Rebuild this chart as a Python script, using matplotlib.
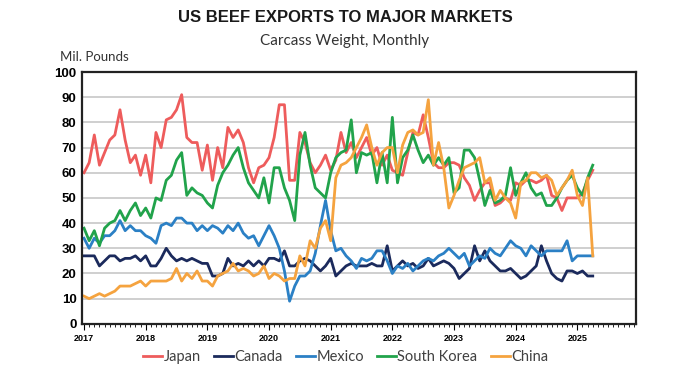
import matplotlib
matplotlib.use("Agg")
import matplotlib.pyplot as plt
from matplotlib.ticker import MultipleLocator
import numpy as np

# monthly values, Jan 2017 - Apr 2025 (Mil. Pounds)
years = ['2017', '2018', '2019', '2020', '2021', '2022', '2023', '2024', '2025']
japan = [60, 64, 75, 63, 68, 73, 75, 85, 73, 64, 67, 59,
         67, 56, 76, 70, 81, 82, 85, 91, 74, 72, 72, 61,
         71, 57, 70, 62, 78, 74, 77, 72, 62, 56, 62, 63,
         66, 74, 87, 87, 57, 57, 76, 72, 64, 60, 63, 67,
         61, 65, 76, 68, 72, 66, 70, 74, 67, 70, 63, 67,
         61, 60, 59, 68, 76, 75, 83, 74, 64, 62, 62, 64,
         64, 63, 58, 55, 49, 53, 56, 56, 47, 48, 50, 49,
         56, 55, 57, 57, 56, 57, 59, 51, 50, 45, 50, 50,
         50, 52, 57, 61]
canada = [27, 27, 27, 23, 25, 27, 27, 25, 26, 26, 27, 25,
          27, 23, 23, 26, 30, 27, 25, 26, 25, 26, 25, 24,
          24, 19, 19, 20, 26, 23, 24, 23, 25, 23, 25, 23,
          26, 26, 25, 29, 23, 23, 25, 26, 25, 23, 21, 23,
          26, 19, 21, 23, 24, 23, 23, 23, 24, 23, 23, 31,
          21, 23, 25, 23, 24, 22, 23, 26, 23, 24, 25, 24,
          22, 18, 20, 22, 31, 25, 29, 25, 23, 21, 21, 22,
          20, 18, 19, 21, 23, 31, 25, 20, 18, 17, 21, 21,
          20, 21, 19, 19]
mexico = [34, 30, 34, 32, 35, 35, 37, 41, 37, 39, 37, 37,
          35, 34, 32, 39, 40, 39, 42, 42, 40, 40, 37, 39,
          37, 39, 38, 36, 39, 37, 40, 36, 34, 35, 31, 35,
          39, 35, 30, 21, 9, 15, 19, 19, 21, 28, 39, 49,
          37, 29, 30, 27, 25, 22, 26, 25, 26, 29, 29, 25,
          20, 23, 22, 24, 21, 23, 25, 26, 25, 27, 28, 30,
          28, 26, 28, 23, 25, 27, 26, 30, 28, 27, 30, 33,
          31, 30, 27, 31, 29, 27, 29, 29, 29, 29, 33, 25,
          27, 27, 27, 27]
korea = [38, 33, 37, 31, 38, 40, 41, 45, 41, 45, 48, 43,
         46, 42, 50, 49, 57, 59, 65, 68, 51, 54, 52, 51,
         48, 46, 55, 60, 63, 67, 70, 62, 56, 53, 50, 58,
         48, 62, 62, 54, 49, 41, 67, 76, 63, 54, 52, 50,
         60, 66, 68, 69, 81, 60, 68, 67, 68, 56, 68, 56,
         82, 56, 66, 69, 75, 69, 64, 67, 63, 66, 63, 66,
         52, 54, 69, 69, 66, 57, 47, 53, 48, 49, 51, 62,
         51, 56, 60, 54, 51, 52, 47, 47, 50, 54, 57, 59,
         54, 51, 58, 63]
china = [11, 10, 11, 12, 11, 12, 13, 15, 15, 15, 16, 17,
         15, 17, 17, 17, 17, 18, 22, 17, 20, 18, 21, 17,
         17, 15, 19, 20, 21, 24, 21, 22, 21, 19, 20, 23,
         18, 20, 19, 17, 18, 18, 27, 23, 33, 30, 38, 41,
         33, 58, 63, 64, 66, 70, 74, 79, 70, 63, 68, 70,
         70, 60, 71, 76, 77, 75, 76, 89, 63, 72, 62, 46,
         51, 57, 62, 63, 64, 66, 56, 58, 49, 53, 50, 48,
         42, 56, 57, 60, 60, 58, 59, 57, 51, 54, 57, 61,
         51, 47, 58, 27]

series = [('Japan', japan, '#ee5c5c'),
          ('Canada', canada, '#1b2a5c'),
          ('Mexico', mexico, '#2b80c5'),
          ('South Korea', korea, '#21a34b'),
          ('China', china, '#f5a33f')]

fig = plt.figure(figsize=(6.86, 3.81), dpi=100)
ax = fig.add_axes([0.1195, 0.150, 0.8075, 0.661])

months = np.arange(len(japan))
for name, vals, color in series:
    ax.plot(months, vals, color=color, lw=2, label=name)

ax.set_xlim(-0.4, 107.4)
ax.set_ylim(0, 100)
ax.set_yticks(range(0, 101, 10))
ax.yaxis.grid(True, color='#cccccc', lw=1.3)
ax.set_axisbelow(True)
ax.set_xticks(range(0, 97, 12))
ax.set_xticklabels(years)
ax.xaxis.set_minor_locator(MultipleLocator(1))
ax.tick_params(axis='x', which='major', length=4, labelsize=6.5, pad=3)
ax.tick_params(axis='x', which='minor', length=2.5)
ax.tick_params(axis='y', length=0, labelsize=9.5, pad=4)
for lab in ax.get_xticklabels() + ax.get_yticklabels():
    lab.set_fontweight('bold')
    lab.set_family('Liberation Sans')
for sp in ax.spines.values():
    sp.set_linewidth(1.6)
    sp.set_color('#222222')

fig.text(0.503, 0.955, 'US BEEF EXPORTS TO MAJOR MARKETS', ha='center', va='center',
         fontsize=12, fontweight='bold', family='Liberation Sans', color='#1a1a1a')
fig.text(0.503, 0.893, 'Carcass Weight, Monthly', ha='center', va='center',
         fontsize=11, family='Lato', color='#333333')
fig.text(0.088, 0.85, 'Mil. Pounds', ha='left', va='center', fontsize=9.5,
         family='Lato', color='#333333')

leg = fig.legend(loc='center', bbox_to_anchor=(0.504, 0.063), ncol=5, frameon=False,
                 handlelength=1.3, handletextpad=0.1, columnspacing=0.9,
                 prop={'family': 'Lato', 'size': 10.5})
for t in leg.get_texts():
    t.set_color('#404040')

fig.savefig('out.png', dpi=100)
